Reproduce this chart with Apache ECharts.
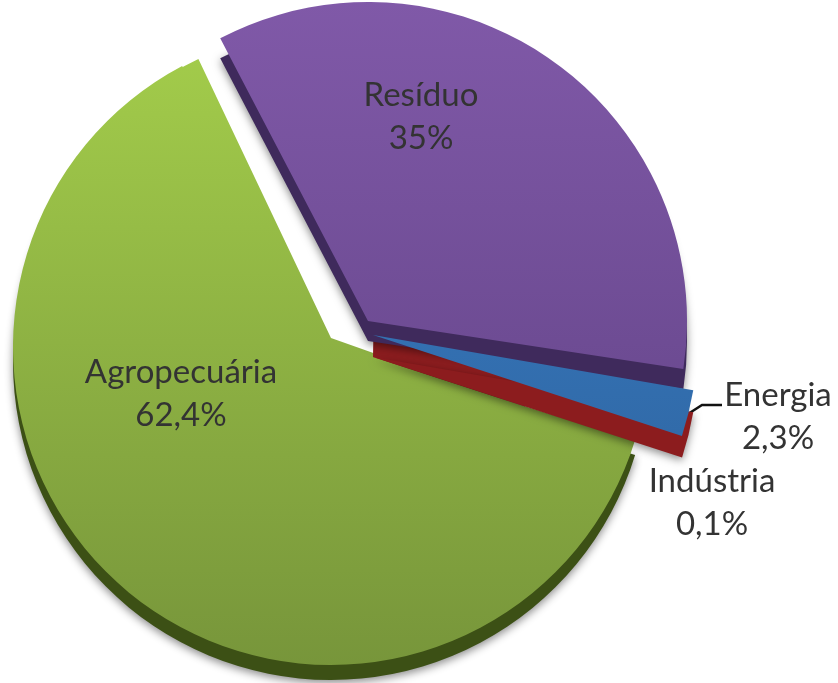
<!DOCTYPE html>
<html><head><meta charset="utf-8">
<style>html,body{margin:0;padding:0;background:#fff}#c{width:838px;height:683px}</style>
<script src="https://cdn.jsdelivr.net/npm/echarts@6/dist/echarts.min.js"></script>
</head><body><div id="c"></div>
<script>
const categories = ['Resíduo', 'Energia', 'Indústria', 'Agropecuária'];
const values = [35, 2.3, 0.1, 62.4];
const total = values.reduce((a, b) => a + b, 0);
const vg = c => ({type:'linear',x:0,y:0,x2:0,y2:683,global:true,colorStops:[{offset:0,color:c[0]},{offset:1,color:c[1]}]});
const fmt = p => p.name + '\n' + String(p.value).replace('.', ',') + '%';

function layer(i, o) {
  const filler = {value: total - values[i], name: '', itemStyle:{color:'rgba(0,0,0,0)',shadowBlur:0,shadowColor:'rgba(0,0,0,0)',borderWidth:0}, label:{show:false}, labelLine:{show:false}};
  const slice = {value: values[i], name: categories[i], itemStyle:Object.assign({color:o.color}, o.shadow ? {shadowBlur:9,shadowOffsetY:3,shadowColor:'rgba(0,0,0,0.45)'} : {}),
    label:o.label || {show:false}, labelLine:o.labelLine || {show:false}};
  return {type:'pie', silent:true, animation:false, center:o.center, radius:[0,o.r], startAngle:o.start, clockwise:true,
    minAngle:o.minAngle||0, avoidLabelOverlap:false, labelLayout:o.layout, emphasis:{disabled:true},
    data:[slice, filler]};
}
const txt = {show:true, formatter:fmt, color:'#333', fontFamily:'Lato', fontSize:33, lineHeight:43, align:'center'};
const green = vg(['#a6d04c','#76943a']);
const series = [
  layer(3,{center:[331,362],r:318,start:-17,color:'#3c5015',shadow:true}),
  layer(3,{center:[331,347],r:318,start:-17,color:green,
    label:Object.assign({},txt,{position:'inside'}), layout:{x:181,y:394,align:'center',verticalAlign:'middle'}}),
  layer(3,{center:[331,338],r:309,start:-19.5,color:green}),
  layer(2,{center:[373,357],r:160,start:89,minAngle:107,color:'#8c1c1e'}),
  layer(0,{center:[368,341],r:319,start:117.6,color:'#3f2a5c',shadow:true}),
  layer(0,{center:[368,321],r:319,start:117.6,color:vg(['#8059a8','#5c3f80']),
    label:Object.assign({},txt,{position:'inside'}), layout:{x:421,y:117,align:'center',verticalAlign:'middle'}}),
  layer(2,{center:[373,357],r:325,start:-9.8,minAngle:8.2,color:'#8c1c1e',shadow:true,
    label:Object.assign({},txt,{position:'inside'}), layout:{x:712,y:503,align:'center',verticalAlign:'middle'}}),
  layer(1,{center:[373,335],r:325,start:-9.8,color:vg(['#3a80cc','#2c5f96']),
    label:Object.assign({},txt,{position:'outside'}),
    labelLine:{show:true,lineStyle:{color:'#111',width:2.5}},
    layout:{x:778,y:417,align:'center',verticalAlign:'middle',labelLinePoints:[[688,414],[702,405],[722,405]]}})
];
const chart = echarts.init(document.getElementById('c'));
chart.setOption({backgroundColor:'#fff', animation:false, series});
</script></body></html>
